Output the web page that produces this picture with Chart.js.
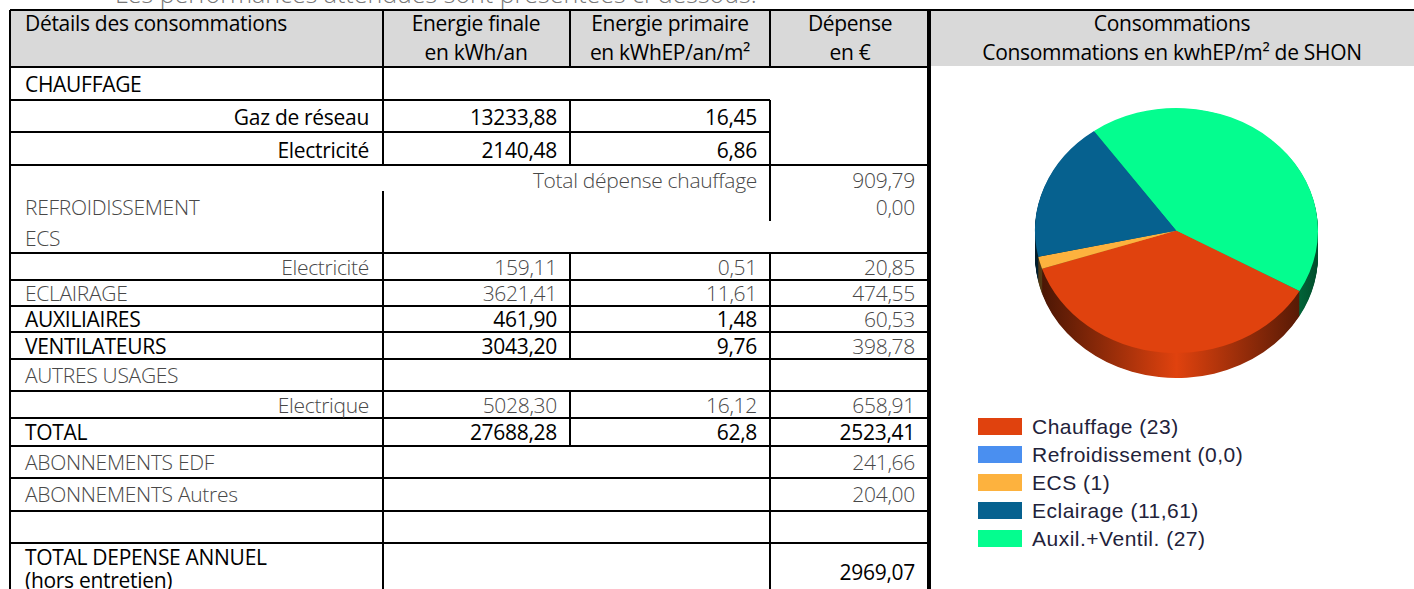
<!DOCTYPE html>
<html>
<head>
<meta charset="utf-8">
<script src="https://cdn.jsdelivr.net/npm/chart.js@4.4.0/dist/chart.umd.min.js"></script>
<style>
  html, body { margin: 0; padding: 0; background: #fff; }
  #page { position: relative; width: 1414px; height: 589px; overflow: hidden; font-family: "Open Sans", sans-serif; }
  .ln { position: absolute; background: #000; }
  .tx { position: absolute; white-space: nowrap; font-size: 21px; line-height: 28px; letter-spacing: -0.3px; }
  .b { color: #000; font-weight: 400; }
  .l { color: #484848; font-weight: 300; }
  .head { position: absolute; background: #d9d9d9; }
  #intro { position: absolute; left: 115px; top: -23px; font-size: 25px; line-height: 32px; font-weight: 300; color: #777; white-space: nowrap; }
  #pieBox { position: absolute; left: 930px; top: 68px; width: 484px; height: 330px; }
  #legend { position: absolute; left: 978px; top: 418px; font-family: "Liberation Sans", Arial, sans-serif; font-size: 21px; letter-spacing: 0.5px; color: #22223a; }
  #legend div { height: 28px; line-height: 18px; white-space: nowrap; }
  #legend span.box { display: inline-block; width: 44px; height: 17px; vertical-align: top; margin-right: 10px; }
</style>
</head>
<body>
<div id="page">
  <div id="intro">Les performances attendues sont présentées ci-dessous.</div>
  <div id="table"></div>
  <div id="pieBox"><canvas id="pie" width="484" height="330"></canvas></div>
  <div id="legend"></div>
</div>
<script>
// pie data (kWhEP/m² SHON)
const pieLabels = ['Chauffage', 'Refroidissement', 'ECS', 'Eclairage', 'Auxil.+Ventil.'];
const pieValues = [23, 0, 1, 11.61, 27];
const pieValueText = ['23', '0,0', '1', '11,61', '27'];
const pieColors = ['#e0420e', '#4a8ff0', '#fdb23e', '#06618f', '#04fd8f'];

// table data
const headers = ['Détails des consommations', 'Energie finale<br>en kWh/an', 'Energie primaire<br>en kWhEP/an/m²', 'Dépense<br>en €'];
const rowLabels = ['CHAUFFAGE', 'Gaz de réseau', 'Electricité', 'Total dépense chauffage', 'REFROIDISSEMENT', 'ECS',
  'Electricité', 'ECLAIRAGE', 'AUXILIAIRES', 'VENTILATEURS', 'AUTRES USAGES', 'Electrique', 'TOTAL',
  'ABONNEMENTS EDF', 'ABONNEMENTS Autres', '', 'TOTAL DEPENSE ANNUEL', '(hors entretien)'];
const energieFinale = ['', '13233,88', '2140,48', '', '', '', '159,11', '3621,41', '461,90', '3043,20', '', '5028,30', '27688,28', '', '', '', '', ''];
const energiePrimaire = ['', '16,45', '6,86', '', '', '', '0,51', '11,61', '1,48', '9,76', '', '16,12', '62,8', '', '', '', '', ''];
const depense = ['', '', '', '909,79', '0,00', '', '20,85', '474,55', '60,53', '398,78', '', '658,91', '2523,41', '241,66', '204,00', '', '', ''];
const depenseAnnuelle = '2969,07';

// layout of the table
const rowMid = [84, 117, 150, 180, 207, 238, 267, 293, 319, 346, 375, 405, 432, 462, 494, 527, 557, 580];
const labelAlign = ['l', 'r', 'r', 'x', 'l', 'l', 'r', 'l', 'l', 'l', 'l', 'r', 'l', 'l', 'l', 'l', 'l', 'l'];
// style per cell: label, finale, primaire, depense  (b = dark, l = light)
const rowStyle = ['b---', 'bbb-', 'bbb-', 'l--l', 'l--l', 'l---', 'llll', 'llll', 'bbbl', 'bbbl', 'l---',
  'llll', 'bbbb', 'l--l', 'l--l', '----', 'b---', 'b---'];

const table = document.getElementById('table');
function add(cls, css, html) {
  const d = document.createElement('div');
  d.className = cls;
  d.style.cssText = css;
  if (html !== undefined) d.innerHTML = html;
  table.appendChild(d);
}
function hline(y, x1, x2) { add('ln', `left:${x1}px;top:${y - 1}px;width:${x2 - x1}px;height:2px`); }
function vline(x, y1, y2, w = 2) { add('ln', `left:${x - w / 2}px;top:${y1}px;width:${w}px;height:${y2 - y1}px`); }
function text(s, x, y, align, cls, lh = 28) {
  if (!s) return;
  const top = y - lh / 2;
  const base = `top:${top}px;line-height:${lh}px;`;
  if (align === 'l') add('tx ' + cls, base + `left:${x}px`, s);
  else if (align === 'r') add('tx ' + cls, base + `right:${1414 - x}px;text-align:right`, s);
  else add('tx ' + cls, base + `left:${x - 200}px;width:400px;text-align:center`, s);
}

// header backgrounds
add('head', 'left:10px;top:10px;width:919px;height:57px');
add('head', 'left:930px;top:10px;width:484px;height:56px');

// horizontal rules
hline(10, 10, 1414);
hline(67, 10, 929);
hline(100, 10, 770);
hline(132, 10, 770);
[165, 253, 280, 306, 332, 359, 391, 418, 446, 478, 511, 543].forEach(y => hline(y, 10, 929));

// vertical rules
vline(10, 10, 589);
vline(383, 10, 165); vline(383, 191, 589);
vline(570, 10, 67); vline(570, 100, 165); vline(570, 253, 359); vline(570, 391, 446);
vline(770, 10, 67); vline(770, 100, 221); vline(770, 253, 589);
vline(929, 10, 589, 4);

// header texts
text(headers[0], 25, 23, 'l', 'b');
const hc = [476, 670, 850];
headers.slice(1).forEach((h, i) => add('tx b', `left:${hc[i] - 150}px;width:300px;top:9px;text-align:center;line-height:29px`, h));
add('tx b', 'left:930px;width:484px;top:9px;text-align:center;line-height:29px', 'Consommations<br>Consommations en kwhEP/m² de SHON');

// body texts
rowLabels.forEach((lab, i) => {
  const st = rowStyle[i];
  const y = rowMid[i];
  const lh = i >= 16 ? 22 : 28;
  if (labelAlign[i] === 'x') {
    text(lab, 757, y, 'r', st[0]);
  } else {
    text(lab, labelAlign[i] === 'l' ? 25 : 369, y, labelAlign[i], st[0], lh);
  }
  text(energieFinale[i], 557, y, 'r', st[1] === 'b' ? 'b' : 'l');
  text(energiePrimaire[i], 757, y, 'r', st[2] === 'b' ? 'b' : 'l');
  text(depense[i], 915, y, 'r', st[3] === 'b' ? 'b' : 'l');
});
text(depenseAnnuelle, 915, 572, 'r', 'b');

// legend
const legend = document.getElementById('legend');
pieLabels.forEach((lab, i) => {
  const d = document.createElement('div');
  d.innerHTML = `<span class="box" style="background:${pieColors[i]}"></span>${lab} (${pieValueText[i]})`;
  legend.appendChild(d);
});

// 3D look: squash the pie vertically and add a shaded side wall
const tilt = 0.866;
const depth = 25;
function shade(hex, f) {
  const n = parseInt(hex.slice(1), 16);
  const r = Math.round(((n >> 16) & 255) * f), g = Math.round(((n >> 8) & 255) * f), b = Math.round((n & 255) * f);
  return `rgb(${r},${g},${b})`;
}
const pie3d = {
  id: 'pie3d',
  beforeDatasetsDraw(chart) {
    const ctx = chart.ctx;
    const arcs = chart.getDatasetMeta(0).data;
    const cx = arcs[0].x, cy = arcs[0].y, r = arcs[0].outerRadius;
    ctx.save();
    ctx.translate(cx, cy);
    ctx.scale(1, tilt);
    ctx.translate(-cx, -cy);
    const grads = arcs.map((a, i) => {
      const g = ctx.createLinearGradient(cx - r, 0, cx + r, 0);
      g.addColorStop(0, shade(pieColors[i], 0.3));
      g.addColorStop(0.5, shade(pieColors[i], 1));
      g.addColorStop(1, shade(pieColors[i], 0.3));
      return g;
    });
    for (let k = depth / tilt; k > 0; k -= 1) {
      arcs.forEach((a, i) => {
        if (a.endAngle - a.startAngle <= 0) return;
        ctx.beginPath();
        ctx.moveTo(cx, cy + k);
        ctx.arc(cx, cy + k, r, a.startAngle, a.endAngle);
        ctx.closePath();
        ctx.fillStyle = grads[i];
        ctx.fill();
      });
    }
  },
  afterDatasetsDraw(chart) {
    chart.ctx.restore();
  }
};

new Chart(document.getElementById('pie'), {
  type: 'pie',
  data: {
    labels: pieLabels,
    datasets: [{
      data: pieValues,
      backgroundColor: pieColors,
      borderWidth: 0,
      hoverOffset: 0
    }]
  },
  options: {
    responsive: false,
    animation: false,
    events: [],
    rotation: 119.6,
    layout: { padding: { left: 105, right: 96, top: 0, bottom: 5 } },
    plugins: {
      legend: { display: false },
      tooltip: { enabled: false }
    }
  },
  plugins: [pie3d]
});
</script>
</body>
</html>
